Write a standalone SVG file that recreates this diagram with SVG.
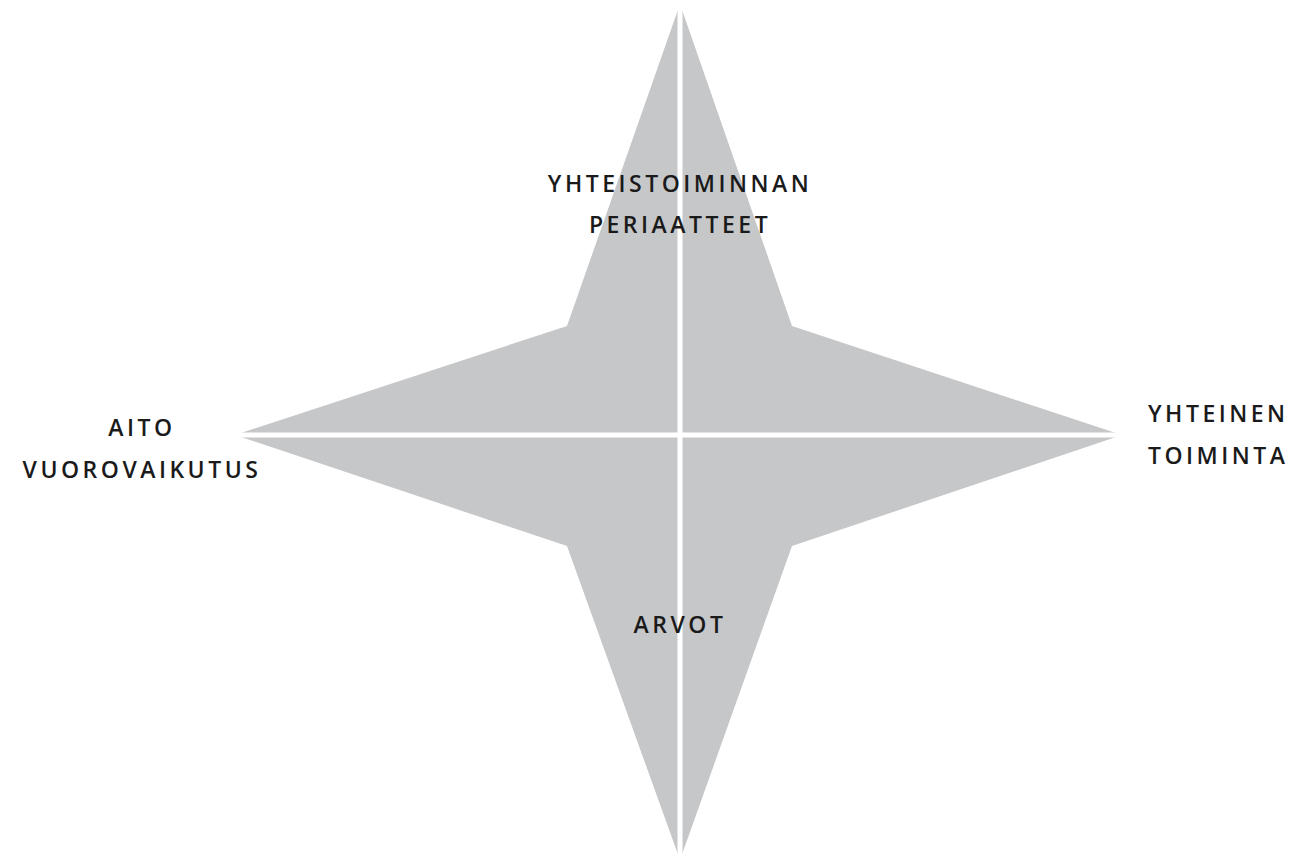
<svg xmlns="http://www.w3.org/2000/svg" width="1297" height="863" viewBox="0 0 1297 863">
<style>
.lbl{font-family:"Open Sans","Liberation Sans",sans-serif;font-size:23px;font-weight:600;letter-spacing:3.5px;fill:#1a1a1a}
.star{fill:#c6c7c9}
.div{stroke:#ffffff;stroke-width:5;fill:none}
</style>
<rect width="1297" height="863" fill="#ffffff"/>
<g id="star">
<path class="star" d="M680,4 L792,326 L1122,435 L792,546 L680,860 L567,546 L235,435 L567,326 Z"/>
</g>
<g id="connectors">
<line class="div" x1="680" y1="0" x2="680" y2="863"/>
<line class="div" x1="230" y1="435" x2="1130" y2="435"/>
</g>
<g id="node-top">
<text class="lbl" x="680" y="192" text-anchor="middle">YHTEISTOIMINNAN</text>
<text class="lbl" x="680" y="233" text-anchor="middle">PERIAATTEET</text>
</g>
<g id="node-left">
<text class="lbl" x="142" y="436" text-anchor="middle">AITO</text>
<text class="lbl" x="142" y="478" text-anchor="middle">VUOROVAIKUTUS</text>
</g>
<g id="node-right">
<text class="lbl" x="1148" y="422">YHTEINEN</text>
<text class="lbl" x="1148" y="464">TOIMINTA</text>
</g>
<g id="node-bottom">
<text class="lbl" x="680" y="633" text-anchor="middle">ARVOT</text>
</g>
</svg>
